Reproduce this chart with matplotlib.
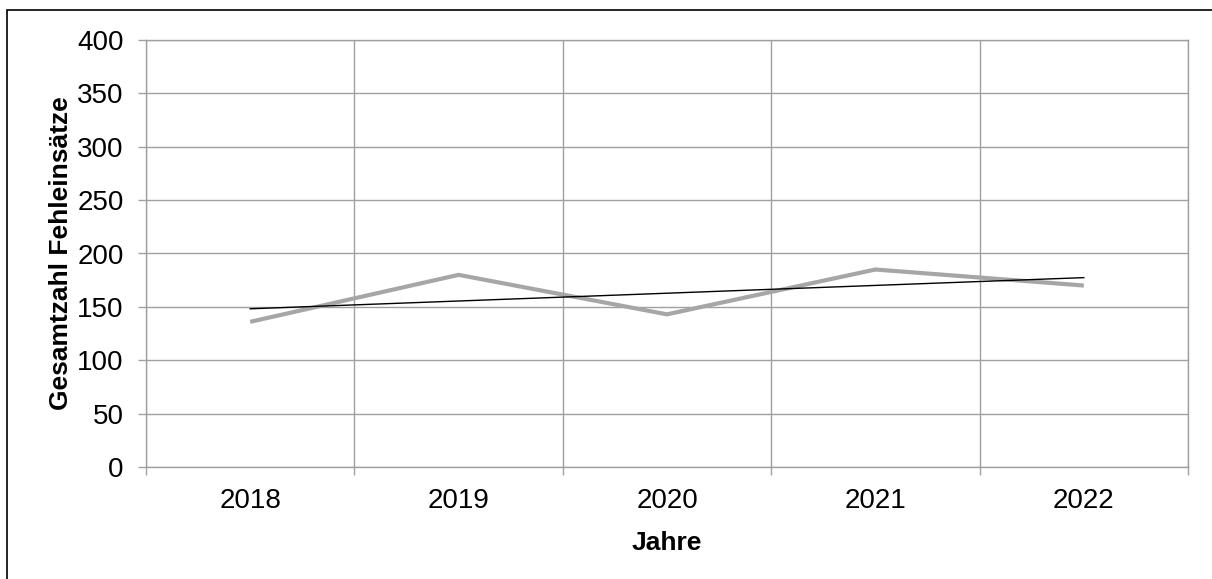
import matplotlib
matplotlib.use("Agg")
import matplotlib.pyplot as plt
import numpy as np
from matplotlib.patches import Rectangle

plt.rcParams["font.family"] = ["Liberation Sans", "DejaVu Sans"]

# Data
jahre = ["2018", "2019", "2020", "2021", "2022"]
fehleinsaetze = [136, 180, 143, 185, 170]

x = np.arange(len(jahre))
# linear trend line (Excel style)
slope, intercept = np.polyfit(x, fehleinsaetze, 1)
trend = slope * x + intercept

grid_col = "#a0a0a0"

fig = plt.figure(figsize=(12.12, 5.79), dpi=100)
ax = fig.add_axes([146 / 1212, 1 - 467 / 579, (1188 - 146) / 1212, (467 - 40) / 579])

ax.plot(x, fehleinsaetze, color="#a6a6a6", lw=3, solid_capstyle="butt", zorder=3)
ax.plot(x, trend, color="black", lw=1.0, zorder=4)

ax.set_xlim(-0.5, len(jahre) - 0.5)
ax.set_ylim(0, 400)
ax.set_yticks(range(0, 401, 50))
ax.set_xticks(x)
ax.set_xticklabels(jahre)
ax.set_xticks(np.arange(-0.5, len(jahre), 1), minor=True)

ax.grid(axis="y", which="major", color=grid_col, lw=1)
ax.grid(axis="x", which="minor", color=grid_col, lw=1)
ax.tick_params(axis="x", which="major", length=0, labelsize=20, pad=15)
ax.tick_params(axis="x", which="minor", length=6, color=grid_col, width=1)
ax.tick_params(axis="y", length=6, color=grid_col, width=1, labelsize=20, pad=10)
for s in ax.spines.values():
    s.set_color(grid_col)
    s.set_linewidth(1)

ax.set_xlabel("Jahre", fontsize=19, fontweight="bold", labelpad=12)
ax.set_ylabel("Gesamtzahl Fehleinsätze", fontsize=19, fontweight="bold", labelpad=3)

# outer chart border
fig.patches.append(Rectangle((7 / 1212, -0.05), 1.1, 1 - 10 / 579 + 0.05,
                             transform=fig.transFigure, fill=False,
                             edgecolor="black", lw=1.2))

fig.savefig("out.png", dpi=100)
